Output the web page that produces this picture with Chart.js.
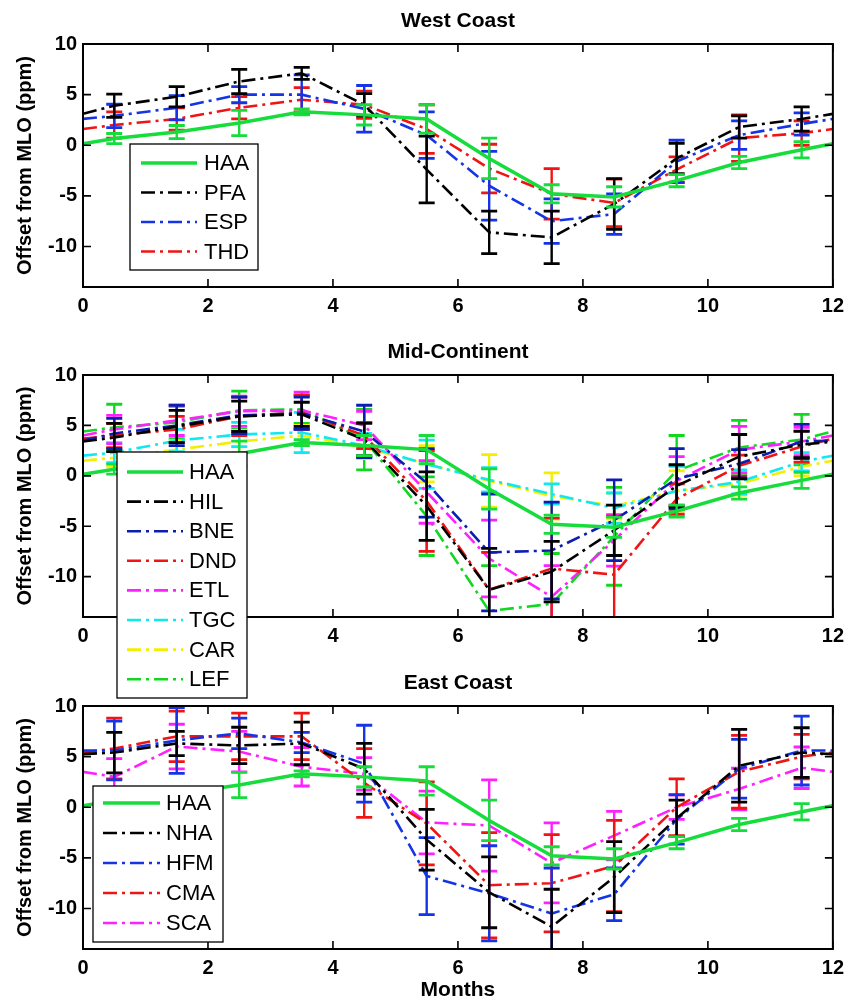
<!DOCTYPE html>
<html><head><meta charset="utf-8">
<script src="https://cdn.jsdelivr.net/npm/chart.js@4.4.1/dist/chart.umd.min.js"></script>
<style>
html,body{margin:0;padding:0;background:#fff;}
body{width:851px;height:1004px;position:relative;overflow:hidden;}
canvas{position:absolute;left:0;}
</style></head><body>
<canvas id="c1" width="851" height="320" style="top:0px"></canvas>
<canvas id="c2" width="851" height="400" style="top:320px"></canvas>
<canvas id="c3" width="851" height="344" style="top:660px"></canvas>
<script>
// ---------- data ----------
const lineMonths = [0, 0.5, 1.5, 2.5, 3.5, 4.5, 5.5, 6.5, 7.5, 8.5, 9.5, 10.5, 11.5, 12];
const barMonths  = [0.5, 1.5, 2.5, 3.5, 4.5, 5.5, 6.5, 7.5, 8.5, 9.5, 10.5, 11.5];
const xTickValues = [0, 2, 4, 6, 8, 10, 12];
const yTickValues = [-10, -5, 0, 5, 10];
const panelTitles = ['West Coast', 'Mid-Continent', 'East Coast'];
const yAxisLabel = 'Offset from MLO (ppm)';
const xAxisLabel = 'Months';

// HAA (reference, same in every panel)
const haa    = [0.15, 0.66, 1.3, 2.2, 3.3, 3.0, 2.6, -1.3, -4.8, -5.1, -3.5, -1.7, -0.45, 0.15];
const haaErr = [0.5, 0.65, 1.25, 0.3, 1.0, 1.4, 2.0, 0.9, 1.0, 0.6, 0.6, 0.8];

// West Coast
const pfa    = [3.1, 3.9, 4.8, 6.3, 7.1, 4.0, -2.4, -8.6, -9.1, -5.8, -1.3, 1.8, 2.6, 3.1];
const pfaErr = [1.15, 1.0, 1.2, 0.6, 1.1, 3.3, 2.1, 2.6, 2.5, 1.5, 1.1, 1.2];
const esp    = [2.6, 2.9, 3.7, 5.0, 5.0, 3.6, 1.0, -4.0, -7.5, -6.8, -1.6, 1.0, 2.1, 2.6];
const espErr = [1.15, 1.2, 0.8, 1.95, 2.3, 2.3, 3.4, 2.2, 2.0, 2.1, 1.4, 1.1];
const thd    = [1.6, 2.0, 2.6, 3.7, 4.5, 4.0, 1.6, -2.3, -4.8, -5.7, -2.4, 0.7, 1.2, 1.6];
const thdErr = [1.3, 1.1, 1.1, 1.2, 1.35, 2.4, 2.4, 2.5, 2.35, 1.25, 2.3, 1.2];

// Mid-Continent
const hil    = [3.4, 3.8, 4.9, 5.9, 6.1, 3.6, -3.0, -11.3, -9.5, -5.4, -1.0, 1.9, 3.1, 3.4];
const hilErr = [1.4, 1.6, 1.5, 1.2, 1.6, 3.4, 4.1, 3.0, 2.5, 2.1, 2.2, 1.3];
const bne    = [3.5, 4.2, 5.0, 6.0, 6.2, 4.4, -0.7, -7.6, -7.4, -4.4, -0.3, 1.2, 3.4, 3.5];
const bneErr = [1.5, 2.0, 1.8, 1.6, 2.6, 3.4, 5.8, 4.8, 4.0, 3.0, 1.4, 1.7];
const dnd    = [3.7, 4.0, 4.6, 5.9, 6.3, 4.0, -2.5, -11.3, -9.2, -9.8, -2.3, 1.0, 2.9, 3.7];
const dndErr = [1.2, 1.3, 1.9, 1.7, 1.3, 5.0, 3.7, 5.0, 5.8, 1.5, 1.05, 1.55];
const etl    = [4.0, 4.6, 5.5, 6.4, 6.5, 5.0, -1.6, -8.2, -12.0, -6.4, -0.5, 2.6, 3.4, 4.0];
const etlErr = [1.4, 1.5, 1.5, 1.8, 1.4, 3.1, 3.8, 3.1, 2.55, 2.4, 2.3, 1.4];
const tgc    = [2.0, 2.3, 3.5, 4.1, 4.3, 3.0, 1.15, -0.4, -1.8, -3.2, -1.5, -0.6, 1.4, 2.0];
const tgcErr = [1.0, 1.1, 1.2, 2.0, 1.2, 2.4, 1.2, 1.0, 1.5, 2.45, 1.2, 0.9];
const car    = [1.5, 1.8, 2.6, 3.4, 4.0, 2.8, 1.2, -0.5, -2.0, -3.0, -1.5, -0.8, 0.9, 1.5];
const carErr = [0.9, 0.9, 1.1, 1.0, 1.1, 1.8, 2.6, 2.3, 1.3, 2.0, 1.1, 0.9];
const lef    = [4.4, 4.8, 5.3, 6.5, 6.6, 3.6, -4.0, -13.4, -12.7, -6.0, 0.5, 2.8, 3.6, 4.4];
const lefErr = [2.3, 1.6, 1.9, 1.4, 3.0, 3.9, 4.5, 5.0, 4.85, 3.5, 2.7, 2.5];

// East Coast
const nha    = [5.25, 5.4, 6.3, 6.1, 6.3, 3.8, -3.2, -8.4, -11.8, -6.9, -1.1, 4.1, 5.4, 5.25];
const nhaErr = [2.0, 1.2, 1.8, 2.1, 2.5, 3.0, 3.5, 3.7, 3.5, 1.8, 3.6, 2.45];
const hfm    = [5.6, 5.6, 6.6, 7.3, 6.4, 4.3, -6.8, -8.5, -10.5, -8.6, -1.2, 3.8, 5.6, 5.6];
const hfmErr = [2.9, 3.25, 1.5, 1.0, 3.8, 3.8, 4.7, 4.5, 2.6, 2.45, 2.9, 3.4];
const cma    = [5.4, 5.8, 7.0, 7.0, 7.0, 2.4, -1.6, -7.7, -7.5, -5.8, 0.0, 3.5, 5.0, 5.4];
const cmaErr = [3.0, 2.5, 2.3, 2.3, 3.4, 4.1, 5.2, 4.8, 4.5, 2.8, 3.6, 2.2];
const sca    = [3.5, 3.0, 6.0, 5.5, 4.0, 3.3, -1.5, -1.8, -5.5, -2.8, 0.0, 1.8, 3.9, 3.5];
const scaErr = [1.8, 2.2, 2.0, 1.9, 1.6, 3.1, 4.5, 3.95, 2.4, 1.2, 2.05, 2.05];

// ---------- styling ----------
const FONT = "'Liberation Sans', Arial, Helvetica, sans-serif";
Chart.defaults.font.family = FONT;
const DASHDOT = [14, 5, 3, 5];
const COL = {green:'#16dc3c', black:'#000000', blue:'#1434e6', navy:'#0c1eb0', red:'#f01414',
             magenta:'#ff20ff', cyan:'#10e8f0', yellow:'#f2f000', lef:'#10d820'};

function series(label, values, errors, color, solid) {
  return {
    label,
    data: lineMonths.map((m, i) => ({x: m, y: values[i]})),
    errors,
    borderColor: color,
    backgroundColor: color,
    borderWidth: solid ? 3.5 : 2.6,
    borderDash: solid ? [] : DASHDOT,
    pointRadius: 0,
    pointHoverRadius: 0,
    tension: 0,
    fill: false
  };
}

const errorBarPlugin = {
  id: 'errorBars',
  afterDatasetDraw(chart, args) {
    const ds = chart.data.datasets[args.index];
    if (!ds.errors) return;
    const {ctx, chartArea: a, scales: {x, y}} = chart;
    ctx.save();
    ctx.beginPath(); ctx.rect(a.left, a.top, a.right - a.left, a.bottom - a.top); ctx.clip();
    ctx.strokeStyle = ds.borderColor; ctx.setLineDash([]); ctx.lineCap = 'butt';
    ds.errors.forEach((e, i) => {
      const m = barMonths[i];
      const pt = ds.data.find(p => p.x === m);
      const px = x.getPixelForValue(m);
      const yt = y.getPixelForValue(pt.y + e), yb = y.getPixelForValue(pt.y - e);
      ctx.lineWidth = 2.4;
      ctx.beginPath(); ctx.moveTo(px, yt); ctx.lineTo(px, yb); ctx.stroke();
      ctx.lineWidth = 2.8;
      ctx.beginPath();
      ctx.moveTo(px - 8, yt); ctx.lineTo(px + 8, yt);
      ctx.moveTo(px - 8, yb); ctx.lineTo(px + 8, yb);
      ctx.stroke();
    });
    ctx.restore();
  }
};

const framePlugin = {
  id: 'frame',
  afterDatasetsDraw(chart) {
    const {ctx, chartArea: a, scales: {x, y}} = chart;
    ctx.save();
    ctx.strokeStyle = '#000'; ctx.lineWidth = 2; ctx.setLineDash([]);
    ctx.strokeRect(a.left, a.top, a.right - a.left, a.bottom - a.top);
    ctx.lineWidth = 1.6;
    ctx.beginPath();
    x.ticks.forEach(t => {
      const px = x.getPixelForValue(t.value);
      ctx.moveTo(px, a.bottom); ctx.lineTo(px, a.bottom - 8);
      ctx.moveTo(px, a.top); ctx.lineTo(px, a.top + 8);
    });
    y.ticks.forEach(t => {
      const py = y.getPixelForValue(t.value);
      ctx.moveTo(a.left, py); ctx.lineTo(a.left + 8, py);
      ctx.moveTo(a.right, py); ctx.lineTo(a.right - 8, py);
    });
    ctx.stroke();
    ctx.restore();
  }
};

function panelPlugin(title, lg) {
  return {
    id: 'panelDecor',
    afterDraw(chart) {
      const {ctx, chartArea: a} = chart;
      ctx.save();
      // title
      ctx.fillStyle = '#000';
      ctx.font = 'bold 21px ' + FONT;
      ctx.textAlign = 'center'; ctx.textBaseline = 'middle';
      ctx.fillText(title, (a.left + a.right) / 2, a.top - 23);
      // legend
      const L = a.left + lg.dx, T = a.top + lg.dy;
      ctx.fillStyle = '#fff'; ctx.fillRect(L, T, lg.w, lg.h);
      ctx.strokeStyle = '#000'; ctx.lineWidth = 1.3; ctx.setLineDash([]);
      ctx.strokeRect(L, T, lg.w, lg.h);
      ctx.textAlign = 'left';
      chart.data.datasets.forEach((ds, i) => {
        const yy = T + lg.first + i * lg.gap;
        ctx.strokeStyle = ds.borderColor; ctx.lineWidth = ds.borderWidth;
        ctx.setLineDash(ds.borderDash);
        ctx.beginPath(); ctx.moveTo(L + lg.sx, yy); ctx.lineTo(L + lg.sx + lg.sl, yy); ctx.stroke();
        ctx.setLineDash([]);
        ctx.fillStyle = '#000'; ctx.font = '22px ' + FONT;
        ctx.fillText(ds.label, L + lg.tx, yy + 1);
      });
      ctx.restore();
    }
  };
}

function makePanel(id, idx, datasets, cfg) {
  return new Chart(document.getElementById(id), {
    type: 'line',
    data: {datasets},
    options: {
      responsive: false, animation: false, devicePixelRatio: 1,
      layout: {padding: {left: 0, right: 15, top: cfg.padTop, bottom: cfg.padBottom}},
      plugins: {legend: {display: false}, tooltip: {enabled: false}, title: {display: false}},
      scales: {
        x: {
          type: 'linear', min: 0, max: 12,
          afterBuildTicks: s => { s.ticks = xTickValues.map(v => ({value: v})); },
          afterFit: s => { s.height = cfg.xHeight; },
          grid: {display: false, drawTicks: false}, border: {display: false},
          ticks: {color: '#000', font: {size: 20, weight: 'bold'}, padding: 7, maxRotation: 0, autoSkip: false},
          title: {display: cfg.xTitle, text: xAxisLabel, color: '#000', font: {size: 21, weight: 'bold'}, padding: {top: 0, bottom: 1}}
        },
        y: {
          type: 'linear', min: -14, max: 10,
          afterBuildTicks: s => { s.ticks = yTickValues.map(v => ({value: v})); },
          afterFit: s => { s.width = 83; },
          grid: {display: false, drawTicks: false}, border: {display: false},
          ticks: {color: '#000', font: {size: 20, weight: 'bold'}, padding: 6},
          title: {display: true, text: yAxisLabel, color: '#000', font: {size: 20, weight: 'bold'}, padding: {top: 13, bottom: 0}}
        }
      }
    },
    plugins: [errorBarPlugin, framePlugin, panelPlugin(panelTitles[idx], cfg.legend)]
  });
}

makePanel('c1', 0, [
  series('HAA', haa, haaErr, COL.green, true),
  series('PFA', pfa, pfaErr, COL.black),
  series('ESP', esp, espErr, COL.blue),
  series('THD', thd, thdErr, COL.red)
], {padTop: 44, padBottom: 0, xHeight: 33, xTitle: false,
    legend: {dx: 47, dy: 100, w: 128, h: 126, first: 19, gap: 29.5, sx: 11, sl: 56, tx: 74}});

makePanel('c2', 1, [
  series('HAA', haa, haaErr, COL.green, true),
  series('HIL', hil, hilErr, COL.black),
  series('BNE', bne, bneErr, COL.navy),
  series('DND', dnd, dndErr, COL.red),
  series('ETL', etl, etlErr, COL.magenta),
  series('TGC', tgc, tgcErr, COL.cyan),
  series('CAR', car, carErr, COL.yellow),
  series('LEF', lef, lefErr, COL.lef)
], {padTop: 55, padBottom: 70, xHeight: 33, xTitle: false,
    legend: {dx: 34, dy: 77, w: 130, h: 246, first: 20, gap: 29.6, sx: 10, sl: 56, tx: 72}});

makePanel('c3', 2, [
  series('HAA', haa, haaErr, COL.green, true),
  series('NHA', nha, nhaErr, COL.black),
  series('HFM', hfm, hfmErr, COL.blue),
  series('CMA', cma, cmaErr, COL.red),
  series('SCA', sca, scaErr, COL.magenta)
], {padTop: 46, padBottom: 0, xHeight: 55, xTitle: true,
    legend: {dx: 10, dy: 80, w: 130, h: 156, first: 17, gap: 30, sx: 10, sl: 57, tx: 73}});
</script>
</body></html>
